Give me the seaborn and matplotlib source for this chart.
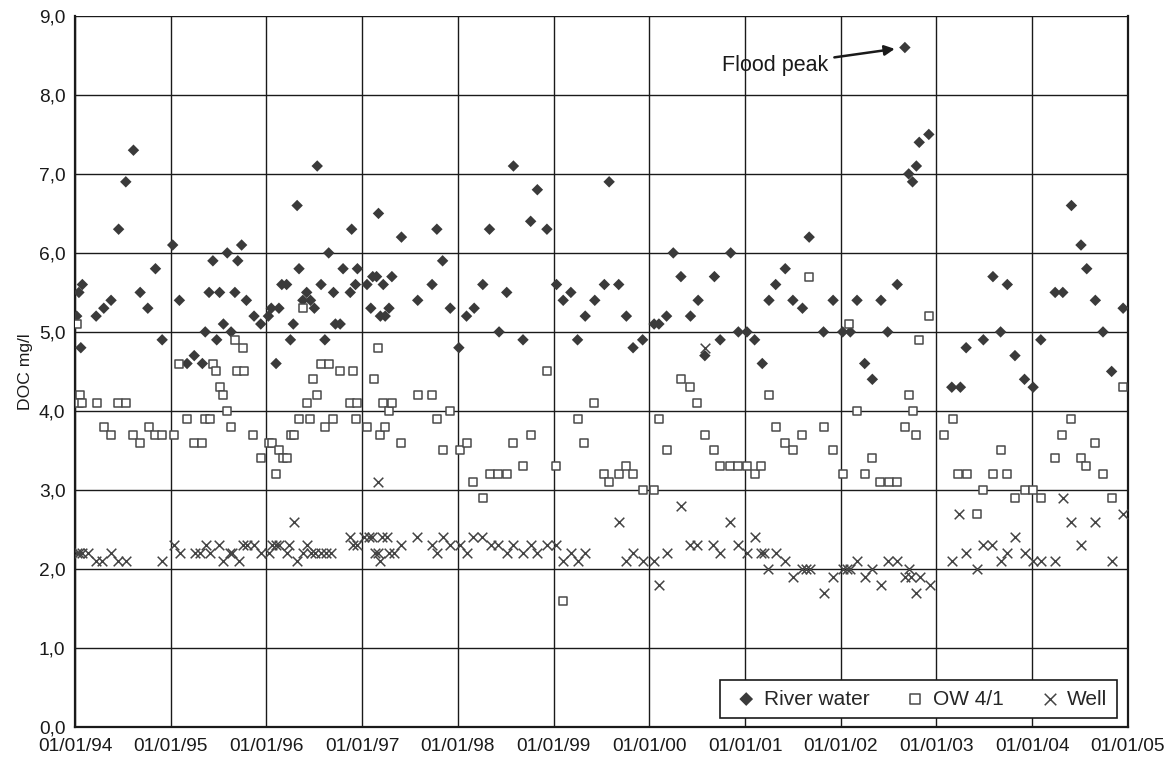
#!/usr/bin/env python3
"""
DOC concentrations 1994-2004: river water, observation well OW 4/1 and
production well. Scatter chart redrawn with seaborn.
"""

import pandas as pd
import matplotlib
matplotlib.use("Agg")
import matplotlib.pyplot as plt
import matplotlib.dates as mdates
from matplotlib.ticker import MultipleLocator, FuncFormatter
import seaborn as sns

# ------------------------------------------------------------------
# Data (decimal years / DOC mg/l)
# ------------------------------------------------------------------
river_t = [1994.017, 1994.04, 1994.06, 1994.076, 1994.22, 1994.30, 1994.376, 1994.455,
           1994.53, 1994.61, 1994.68, 1994.76, 1994.84, 1994.91, 1995.02, 1995.09,
           1995.17, 1995.245, 1995.33, 1995.36, 1995.40, 1995.44, 1995.48, 1995.51,
           1995.55, 1995.59, 1995.63, 1995.67, 1995.70, 1995.74, 1995.79, 1995.87,
           1995.94, 1996.02, 1996.05, 1996.10, 1996.13, 1996.16, 1996.21, 1996.25,
           1996.28, 1996.32, 1996.34, 1996.38, 1996.42, 1996.46, 1996.50, 1996.53,
           1996.57, 1996.61, 1996.65, 1996.70, 1996.72, 1996.77, 1996.80, 1996.875,
           1996.89, 1996.93, 1996.95, 1997.05, 1997.09, 1997.11, 1997.15, 1997.17,
           1997.19, 1997.22, 1997.24, 1997.28, 1997.31, 1997.41, 1997.58, 1997.73,
           1997.78, 1997.84, 1997.92, 1998.01, 1998.09, 1998.17, 1998.26, 1998.33,
           1998.43, 1998.51, 1998.58, 1998.68, 1998.76, 1998.83, 1998.93, 1999.03,
           1999.10, 1999.18, 1999.25, 1999.33, 1999.43, 1999.53, 1999.58, 1999.68,
           1999.76, 1999.83, 1999.93, 2000.05, 2000.10, 2000.18, 2000.25, 2000.33,
           2000.43, 2000.51, 2000.58, 2000.68, 2000.74, 2000.85, 2000.93, 2001.02,
           2001.10, 2001.18, 2001.25, 2001.32, 2001.42, 2001.50, 2001.60, 2001.67,
           2001.82, 2001.92, 2002.02, 2002.10, 2002.17, 2002.25, 2002.33, 2002.42,
           2002.49, 2002.59, 2002.67, 2002.71, 2002.75, 2002.79, 2002.82, 2002.92,
           2003.16, 2003.25, 2003.31, 2003.49, 2003.59, 2003.67, 2003.74, 2003.82,
           2003.92, 2004.01, 2004.09, 2004.24, 2004.32, 2004.41, 2004.51, 2004.57,
           2004.66, 2004.74, 2004.83, 2004.95]
river_doc = [5.2, 5.5, 4.8, 5.6, 5.2, 5.3, 5.4, 6.3,
             6.9, 7.3, 5.5, 5.3, 5.8, 4.9, 6.1, 5.4,
             4.6, 4.7, 4.6, 5.0, 5.5, 5.9, 4.9, 5.5,
             5.1, 6.0, 5.0, 5.5, 5.9, 6.1, 5.4, 5.2,
             5.1, 5.2, 5.3, 4.6, 5.3, 5.6, 5.6, 4.9,
             5.1, 6.6, 5.8, 5.4, 5.5, 5.4, 5.3, 7.1,
             5.6, 4.9, 6.0, 5.5, 5.1, 5.1, 5.8, 5.5,
             6.3, 5.6, 5.8, 5.6, 5.3, 5.7, 5.7, 6.5,
             5.2, 5.6, 5.2, 5.3, 5.7, 6.2, 5.4, 5.6,
             6.3, 5.9, 5.3, 4.8, 5.2, 5.3, 5.6, 6.3,
             5.0, 5.5, 7.1, 4.9, 6.4, 6.8, 6.3, 5.6,
             5.4, 5.5, 4.9, 5.2, 5.4, 5.6, 6.9, 5.6,
             5.2, 4.8, 4.9, 5.1, 5.1, 5.2, 6.0, 5.7,
             5.2, 5.4, 4.7, 5.7, 4.9, 6.0, 5.0, 5.0,
             4.9, 4.6, 5.4, 5.6, 5.8, 5.4, 5.3, 6.2,
             5.0, 5.4, 5.0, 5.0, 5.4, 4.6, 4.4, 5.4,
             5.0, 5.6, 8.6, 7.0, 6.9, 7.1, 7.4, 7.5,
             4.3, 4.3, 4.8, 4.9, 5.7, 5.0, 5.6, 4.7,
             4.4, 4.3, 4.9, 5.5, 5.5, 6.6, 6.1, 5.8,
             5.4, 5.0, 4.5, 5.3]

ow_t = [1994.02, 1994.05, 1994.04, 1994.07, 1994.23, 1994.30, 1994.38, 1994.45,
        1994.53, 1994.61, 1994.68, 1994.77, 1994.83, 1994.91, 1995.03, 1995.09,
        1995.17, 1995.24, 1995.33, 1995.36, 1995.41, 1995.44, 1995.47, 1995.51,
        1995.55, 1995.59, 1995.63, 1995.67, 1995.69, 1995.75, 1995.77, 1995.86,
        1995.94, 1996.03, 1996.06, 1996.10, 1996.13, 1996.17, 1996.21, 1996.26,
        1996.29, 1996.34, 1996.38, 1996.42, 1996.45, 1996.49, 1996.53, 1996.57,
        1996.61, 1996.65, 1996.70, 1996.77, 1996.87, 1996.90, 1996.93, 1996.95,
        1997.045, 1997.12, 1997.17, 1997.19, 1997.22, 1997.24, 1997.28, 1997.31,
        1997.41, 1997.58, 1997.73, 1997.78, 1997.84, 1997.92, 1998.02, 1998.09,
        1998.16, 1998.26, 1998.34, 1998.42, 1998.51, 1998.58, 1998.68, 1998.76,
        1998.93, 1999.02, 1999.10, 1999.25, 1999.32, 1999.42, 1999.53, 1999.58,
        1999.68, 1999.76, 1999.83, 1999.93, 2000.05, 2000.10, 2000.18, 2000.33,
        2000.42, 2000.50, 2000.58, 2000.68, 2000.74, 2000.84, 2000.93, 2001.02,
        2001.10, 2001.17, 2001.25, 2001.32, 2001.42, 2001.50, 2001.59, 2001.67,
        2001.82, 2001.92, 2002.02, 2002.09, 2002.17, 2002.25, 2002.33, 2002.41,
        2002.50, 2002.59, 2002.67, 2002.71, 2002.75, 2002.79, 2002.82, 2002.92,
        2003.08, 2003.17, 2003.23, 2003.32, 2003.42, 2003.49, 2003.59, 2003.67,
        2003.74, 2003.82, 2003.92, 2004.01, 2004.09, 2004.24, 2004.31, 2004.41,
        2004.51, 2004.56, 2004.66, 2004.74, 2004.83, 2004.95]
ow_doc = [5.1, 4.2, 4.1, 4.1, 4.1, 3.8, 3.7, 4.1,
          4.1, 3.7, 3.6, 3.8, 3.7, 3.7, 3.7, 4.6,
          3.9, 3.6, 3.6, 3.9, 3.9, 4.6, 4.5, 4.3,
          4.2, 4.0, 3.8, 4.9, 4.5, 4.8, 4.5, 3.7,
          3.4, 3.6, 3.6, 3.2, 3.5, 3.4, 3.4, 3.7,
          3.7, 3.9, 5.3, 4.1, 3.9, 4.4, 4.2, 4.6,
          3.8, 4.6, 3.9, 4.5, 4.1, 4.5, 3.9, 4.1,
          3.8, 4.4, 4.8, 3.7, 4.1, 3.8, 4.0, 4.1,
          3.6, 4.2, 4.2, 3.9, 3.5, 4.0, 3.5, 3.6,
          3.1, 2.9, 3.2, 3.2, 3.2, 3.6, 3.3, 3.7,
          4.5, 3.3, 1.6, 3.9, 3.6, 4.1, 3.2, 3.1,
          3.2, 3.3, 3.2, 3.0, 3.0, 3.9, 3.5, 4.4,
          4.3, 4.1, 3.7, 3.5, 3.3, 3.3, 3.3, 3.3,
          3.2, 3.3, 4.2, 3.8, 3.6, 3.5, 3.7, 5.7,
          3.8, 3.5, 3.2, 5.1, 4.0, 3.2, 3.4, 3.1,
          3.1, 3.1, 3.8, 4.2, 4.0, 3.7, 4.9, 5.2,
          3.7, 3.9, 3.2, 3.2, 2.7, 3.0, 3.2, 3.5,
          3.2, 2.9, 3.0, 3.0, 2.9, 3.4, 3.7, 3.9,
          3.4, 3.3, 3.6, 3.2, 2.9, 4.3]

well_t = [1994.02, 1994.04, 1994.07, 1994.14, 1994.22, 1994.28, 1994.38, 1994.45,
          1994.53, 1994.91, 1995.03, 1995.10, 1995.25, 1995.31, 1995.37, 1995.41,
          1995.50, 1995.55, 1995.62, 1995.64, 1995.71, 1995.75, 1995.80, 1995.87,
          1995.94, 1996.03, 1996.06, 1996.10, 1996.13, 1996.21, 1996.24, 1996.29,
          1996.32, 1996.38, 1996.42, 1996.46, 1996.51, 1996.57, 1996.62, 1996.67,
          1996.87, 1996.90, 1996.95, 1997.02, 1997.07, 1997.10, 1997.13, 1997.17,
          1997.17, 1997.19, 1997.21, 1997.26, 1997.28, 1997.33, 1997.41, 1997.57,
          1997.73, 1997.78, 1997.84, 1997.92, 1998.02, 1998.09, 1998.16, 1998.25,
          1998.35, 1998.42, 1998.51, 1998.58, 1998.68, 1998.76, 1998.83, 1998.93,
          1999.03, 1999.10, 1999.18, 1999.25, 1999.33, 1999.68, 1999.76, 1999.83,
          1999.93, 2000.05, 2000.10, 2000.18, 2000.33, 2000.42, 2000.50, 2000.58,
          2000.67, 2000.74, 2000.84, 2000.93, 2001.02, 2001.10, 2001.17, 2001.20,
          2001.24, 2001.32, 2001.42, 2001.50, 2001.59, 2001.64, 2001.68, 2001.82,
          2001.92, 2002.02, 2002.06, 2002.10, 2002.17, 2002.25, 2002.33, 2002.42,
          2002.49, 2002.59, 2002.67, 2002.71, 2002.73, 2002.79, 2002.83, 2002.93,
          2003.16, 2003.24, 2003.31, 2003.42, 2003.49, 2003.58, 2003.67, 2003.74,
          2003.82, 2003.92, 2004.01, 2004.09, 2004.24, 2004.32, 2004.41, 2004.51,
          2004.66, 2004.83, 2004.95]
well_doc = [2.2, 2.2, 2.2, 2.2, 2.1, 2.1, 2.2, 2.1,
            2.1, 2.1, 2.3, 2.2, 2.2, 2.2, 2.3, 2.2,
            2.3, 2.1, 2.2, 2.2, 2.1, 2.3, 2.3, 2.3,
            2.2, 2.2, 2.3, 2.3, 2.3, 2.2, 2.3, 2.6,
            2.1, 2.2, 2.3, 2.2, 2.2, 2.2, 2.2, 2.2,
            2.4, 2.3, 2.3, 2.4, 2.4, 2.4, 2.2, 3.1,
            2.2, 2.1, 2.4, 2.4, 2.2, 2.2, 2.3, 2.4,
            2.3, 2.2, 2.4, 2.3, 2.3, 2.2, 2.4, 2.4,
            2.3, 2.3, 2.2, 2.3, 2.2, 2.3, 2.2, 2.3,
            2.3, 2.1, 2.2, 2.1, 2.2, 2.6, 2.1, 2.2,
            2.1, 2.1, 1.8, 2.2, 2.8, 2.3, 2.3, 4.8,
            2.3, 2.2, 2.6, 2.3, 2.2, 2.4, 2.2, 2.2,
            2.0, 2.2, 2.1, 1.9, 2.0, 2.0, 2.0, 1.7,
            1.9, 2.0, 2.0, 2.0, 2.1, 1.9, 2.0, 1.8,
            2.1, 2.1, 1.9, 2.0, 1.9, 1.7, 1.9, 1.8,
            2.1, 2.7, 2.2, 2.0, 2.3, 2.3, 2.1, 2.2,
            2.4, 2.2, 2.1, 2.1, 2.1, 2.9, 2.6, 2.3,
            2.6, 2.1, 2.7]

x_tick_years = list(range(1994, 2006))
flood_label = "Flood peak"
flood_t, flood_doc = 2002.665, 8.6


def to_dates(years):
    # decimal year -> timestamp
    base = pd.Timestamp("1994-01-01")
    return [base + pd.Timedelta(days=(y - 1994) * 365.25) for y in years]


river = pd.DataFrame({"date": to_dates(river_t), "doc": river_doc})
ow = pd.DataFrame({"date": to_dates(ow_t), "doc": ow_doc})
well = pd.DataFrame({"date": to_dates(well_t), "doc": well_doc})

# ------------------------------------------------------------------
# Plot
# ------------------------------------------------------------------
sns.set_style("white")
plt.rcParams["font.family"] = ["Liberation Sans", "DejaVu Sans"]

fig = plt.figure(figsize=(11.73, 7.58), dpi=100)
ax = fig.add_axes([0.064, 0.041, 0.8976, 0.938])

sns.scatterplot(data=river, x="date", y="doc", ax=ax, marker="D", s=34,
                color="#3a3a3a", edgecolor="none", label="River water", zorder=3)
sns.scatterplot(data=ow, x="date", y="doc", ax=ax, marker="s", s=40,
                facecolor="white", edgecolor="#4a4a4a", linewidth=1.1,
                label="OW 4/1", zorder=3)
sns.scatterplot(data=well, x="date", y="doc", ax=ax, marker="x", s=48,
                color="#444444", linewidth=1.1, label="Well", zorder=3)

ax.set_xlim(pd.Timestamp("1994-01-01"), pd.Timestamp("2005-01-01"))
ax.set_ylim(0, 9)
ax.set_xticks([pd.Timestamp(f"{y}-01-01") for y in x_tick_years])
ax.xaxis.set_major_formatter(mdates.DateFormatter("%d/%m/%y"))
ax.yaxis.set_major_locator(MultipleLocator(1))
ax.yaxis.set_major_formatter(FuncFormatter(lambda v, _: f"{v:.1f}".replace(".", ",")))

ax.grid(True, color="#1a1a1a", linewidth=1.0)
ax.set_axisbelow(True)
for side in ["left", "bottom", "right"]:
    ax.spines[side].set_visible(True)
    ax.spines[side].set_color("#1a1a1a")
    ax.spines[side].set_linewidth(1.6)
ax.spines["top"].set_visible(False)
ax.tick_params(axis="both", direction="out", length=4, width=1, color="#1a1a1a",
               labelsize=13.8, labelcolor="#1a1a1a", pad=3)
ax.tick_params(axis="x", pad=4)
ax.set_xlabel("")
ax.set_ylabel("DOC mg/l", fontsize=12.6, color="#1a1a1a", labelpad=4)

ax.annotate(flood_label, xy=(to_dates([flood_t])[0], flood_doc),
            xytext=(to_dates([2000.76])[0], 8.37), fontsize=15.5, va="center",
            color="#1a1a1a",
            arrowprops=dict(arrowstyle="-|>", color="#1a1a1a", lw=1.8,
                            shrinkA=2, shrinkB=7, mutation_scale=15))

leg = ax.legend(loc="lower right", bbox_to_anchor=(0.9896, 0.0127), ncol=3,
                fontsize=15, frameon=True, fancybox=False, framealpha=1,
                edgecolor="#1a1a1a", handlelength=1.6, handletextpad=0.05,
                columnspacing=1.4, borderpad=0.45, borderaxespad=0,
                markerscale=1.2)
leg.get_frame().set_linewidth(1.2)

plt.savefig("out.png", dpi=100)
plt.close()
